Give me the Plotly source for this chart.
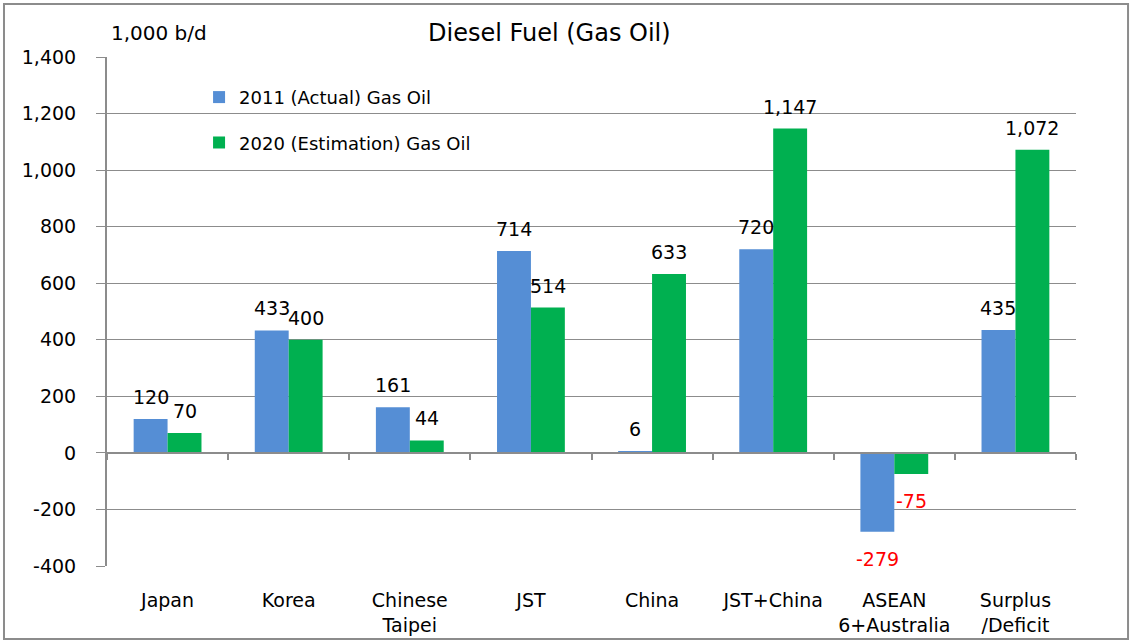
import plotly.graph_objects as go

# Diesel fuel (gas oil) balance, 1,000 b/d
categories = ["Japan", "Korea", "Chinese<br>Taipei", "JST", "China",
              "JST+China", "ASEAN<br>6+Australia", "Surplus<br>/Deficit"]
actual_2011 = [120, 433, 161, 714, 6, 720, -279, 435]
estimate_2020 = [70, 400, 44, 514, 633, 1147, -75, 1072]
series_names = ["2011 (Actual) Gas Oil", "2020 (Estimation) Gas Oil"]
y_ticks = [-400, -200, 0, 200, 400, 600, 800, 1000, 1200, 1400]

FONT = "DejaVu Sans"
BLUE = "#558ED5"
GREEN = "#00B050"
GRID = "#8c8c8c"
idx = list(range(len(categories)))

fig = go.Figure()
for name, vals, col, grp in [(series_names[0], actual_2011, BLUE, "a"),
                             (series_names[1], estimate_2020, GREEN, "b")]:
    fig.add_trace(go.Bar(x=idx, y=vals, name=name, marker_color=col,
                         marker_line_width=0, legendgroup=grp))

# invisible trace so the zero-crossing category axis is drawn
fig.add_trace(go.Scatter(x=[0], y=[None], xaxis="x2", showlegend=False,
                         hoverinfo="skip", mode="markers"))

# value labels above / below each bar
annotations = []
for vals, shift in [(actual_2011, -17), (estimate_2020, 17)]:
    for i, v in enumerate(vals):
        annotations.append(dict(
            x=i, y=v, xref="x", yref="y", text=f"{v:,}", showarrow=False,
            xshift=shift, yshift=22 if v >= 0 else -27, yanchor="middle",
            font=dict(family=FONT, size=19, color="red" if v < 0 else "black")))

annotations.append(dict(x=0.457, y=1.047, xref="paper", yref="paper",
                        yanchor="middle",
                        text="Diesel Fuel (Gas Oil)", showarrow=False,
                        font=dict(family=FONT, size=24, color="black")))
annotations.append(dict(x=0.002, y=1.047, xref="paper", yref="paper",
                        xanchor="left", yanchor="middle",
                        text="1,000 b/d", showarrow=False,
                        font=dict(family=FONT, size=20, color="black")))

fig.update_layout(
    width=1132, height=643,
    margin=dict(l=107, r=56, t=57, b=77),
    paper_bgcolor="white", plot_bgcolor="white",
    barmode="group", bargap=0.44, bargroupgap=0,
    font=dict(family=FONT, size=19, color="black"),
    showlegend=True,
    legend=dict(x=0.095, y=0.957, xanchor="left", yanchor="top",
                bgcolor="rgba(0,0,0,0)", tracegroupgap=19,
                font=dict(family=FONT, size=18, color="black")),
    annotations=annotations,
    xaxis=dict(range=[-0.5, 7.5], tickmode="array", tickvals=idx,
               ticktext=categories, showgrid=False, showline=False,
               ticks="", zeroline=False, ticklabelstandoff=21,
               automargin=False,
               tickfont=dict(family=FONT, size=19, color="black")),
    xaxis2=dict(range=[-0.5, 7.5], overlaying="x", anchor="free",
                position=400 / 1800, side="bottom", showticklabels=False,
                tickmode="array", tickvals=[i - 0.5 for i in range(9)],
                ticks="outside", ticklen=6, tickwidth=2, tickcolor=GRID,
                showline=True, linecolor=GRID, linewidth=2, showgrid=False,
                zeroline=False, automargin=False),
    yaxis=dict(range=[-400, 1400], tickmode="array", tickvals=y_ticks,
               ticktext=[f"{t:,}" for t in y_ticks],
               showgrid=True, gridcolor=GRID, gridwidth=1,
               zeroline=False, showline=True, linecolor=GRID, linewidth=2,
               ticks="outside", ticklen=9, tickcolor=GRID, tickwidth=1,
               ticklabelstandoff=16, automargin=False,
               tickfont=dict(family=FONT, size=19, color="black")),
    shapes=[dict(type="rect", xref="paper", yref="paper",
                 x0=-0.1063, x1=1.0537, y0=-0.1434, y1=1.1041,
                 line=dict(color="#8c8c8c", width=2), layer="below")],
)

fig.write_html("out.html")
